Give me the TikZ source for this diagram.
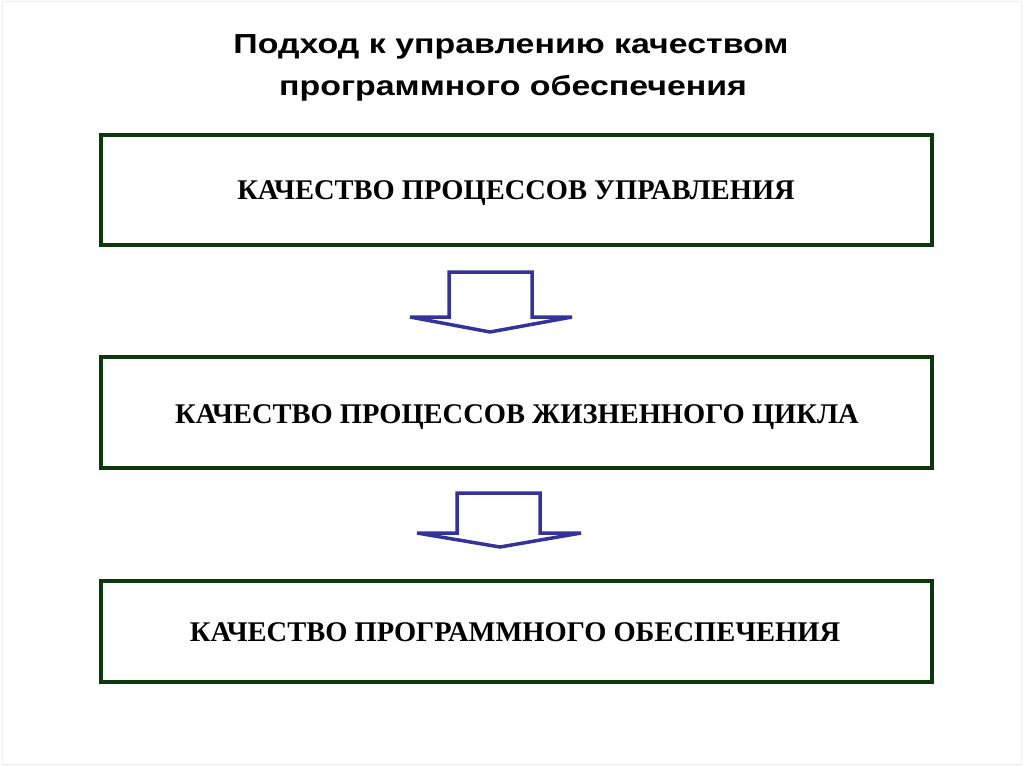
\documentclass[tikz,border=0pt]{standalone}
\usepackage{fontspec}
\setmainfont{Liberation Serif}
\newfontfamily\titlefont[FakeStretch=1.233]{Liberation Sans}
\definecolor{boxgreen}{RGB}{12,56,12}
\definecolor{arrowblue}{RGB}{51,51,153}
\definecolor{framegray}{RGB}{238,238,238}
\begin{document}
\begin{tikzpicture}[x=1pt,y=-1pt,
  stagebox/.style={draw=boxgreen,line width=4pt,minimum width=831pt,inner sep=0pt},
  stagetext/.style={font=\fontsize{28.5}{30}\selectfont\bfseries,anchor=base},
  titletext/.style={font=\titlefont\fontsize{27.5}{30}\selectfont\bfseries,anchor=base},
  blockarrow/.style={draw=arrowblue,line width=3.5pt,line join=miter}]
\useasboundingbox (0,0) rectangle (1024,767);
\fill[white] (0,0) rectangle (1024,767);
\draw[framegray,line width=1pt] (2,2) rectangle (1021,764);
% title
\node[titletext] (t1) at (511,53.5) {Подход к управлению качеством};
\node[titletext] (t2) at (513,95.5) {программного обеспечения};
% boxes
\node[stagebox,minimum height=110pt] (b1) at (516.5,190) {};
\node[stagebox,minimum height=111pt] (b2) at (516.5,412.5) {};
\node[stagebox,minimum height=101pt] (b3) at (516.5,631.5) {};
\node[stagetext] (l1) at (516,200) {КАЧЕСТВО ПРОЦЕССОВ УПРАВЛЕНИЯ};
\node[stagetext] (l2) at (517,423) {КАЧЕСТВО ПРОЦЕССОВ ЖИЗНЕННОГО ЦИКЛА};
\node[stagetext] (l3) at (515,641) {КАЧЕСТВО ПРОГРАММНОГО ОБЕСПЕЧЕНИЯ};
% block arrows
\draw[blockarrow] (449,272) -- (532,272) -- (532,317) -- (572,317) -- (490,332) -- (410,317) -- (449,317) -- cycle;
\draw[blockarrow] (457,493) -- (540,493) -- (540,533) -- (581,533) -- (500,547) -- (417,533) -- (457,533) -- cycle;
\end{tikzpicture}
\end{document}
